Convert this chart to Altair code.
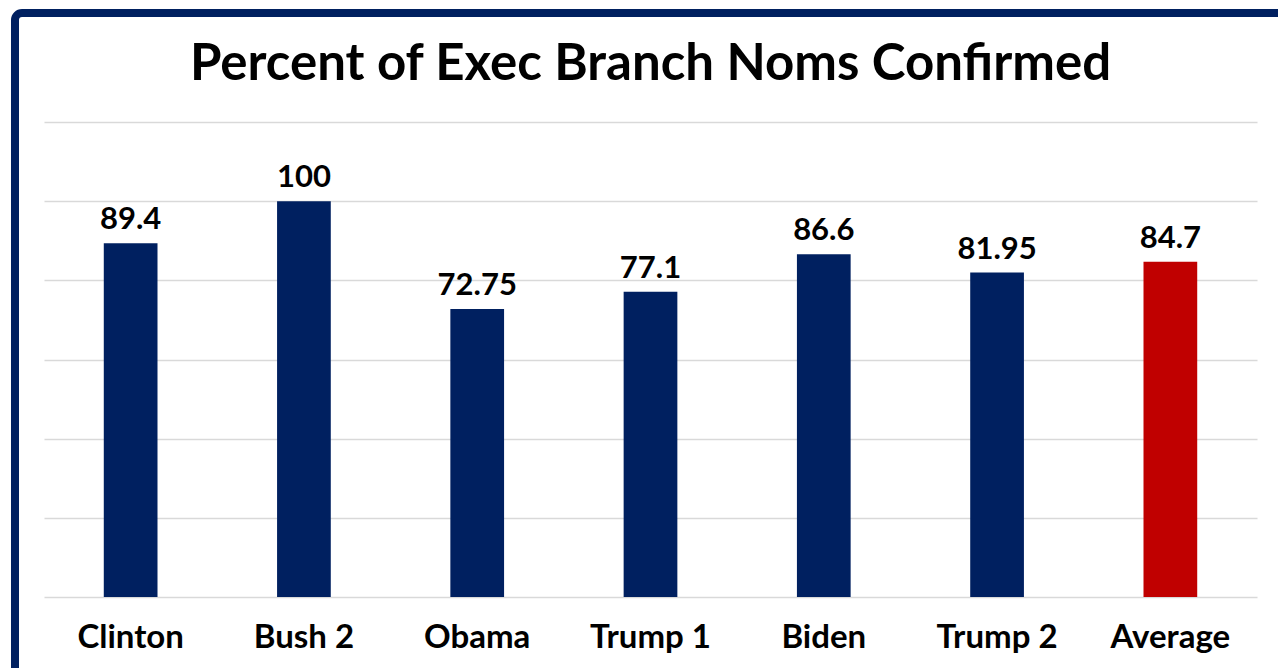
import altair as alt
import pandas as pd

# Confirmation rates of executive branch nominees, by administration
administrations = ["Clinton", "Bush 2", "Obama", "Trump 1", "Biden", "Trump 2", "Average"]
pct_confirmed = [89.4, 100, 72.75, 77.1, 86.6, 81.95, 84.7]
bar_colors = ["#002060", "#002060", "#002060", "#002060", "#002060", "#002060", "#C00000"]
grid_values = [0, 20, 40, 60, 80, 100, 120]
chart_title = "Percent of Exec Branch Noms Confirmed"

df = pd.DataFrame({
    "admin": administrations,
    "pct": pct_confirmed,
    "color": bar_colors,
})

FONT = "Lato"
PLOT_W, PLOT_H = 1213, 475

x_enc = alt.X(
    "admin:N",
    sort=administrations,
    scale=alt.Scale(paddingInner=0.69, paddingOuter=0.345),
    axis=alt.Axis(
        title=None, ticks=False, domain=False, labelAngle=0,
        labelFont=FONT, labelFontSize=33, labelFontWeight="bold",
        labelColor="#000000", labelPadding=24,
    ),
)
y_enc = alt.Y(
    "pct:Q",
    scale=alt.Scale(domain=[0, 120], nice=False),
    axis=alt.Axis(
        title=None, labels=False, ticks=False, domain=False,
        values=grid_values, gridColor="#d9d9d9", gridWidth=1.5,
    ),
)

base = alt.Chart(df)

bars = base.mark_bar().encode(
    x=x_enc,
    y=y_enc,
    color=alt.Color("color:N", scale=None),
)

labels = base.mark_text(
    font=FONT, fontSize=31, fontWeight="bold", color="#000000",
    baseline="alphabetic", dy=-14,
).encode(
    x=alt.X("admin:N", sort=administrations),
    y="pct:Q",
    text=alt.Text("pct:Q"),
)

# Chart heading, centred over the plot area
heading = alt.Chart(pd.DataFrame({"t": [chart_title]})).mark_text(
    font=FONT, fontSize=51, fontWeight="bold", color="#000000",
    align="center", baseline="alphabetic",
).encode(
    x=alt.value(PLOT_W / 2), y=alt.value(-42), text="t:N",
)

# Navy frame around the chart, running off the right and bottom edges
frame = alt.Chart(pd.DataFrame({"k": [0]})).mark_rect(
    fillOpacity=0, stroke="#002060", strokeWidth=8, cornerRadius=7,
).encode(
    x=alt.value(-29), x2=alt.value(1260),
    y=alt.value(-109), y2=alt.value(600),
)

chart = alt.layer(bars, labels, heading, frame).properties(
    width=PLOT_W,
    height=PLOT_H,
    autosize=alt.AutoSizeParams(type="none"),
    padding={"left": 44, "top": 122, "right": 21, "bottom": 71},
).configure(
    background="#ffffff",
    view=alt.ViewConfig(strokeOpacity=0),
)

chart.save("out.html", embed_options={"renderer": "svg", "actions": False})
